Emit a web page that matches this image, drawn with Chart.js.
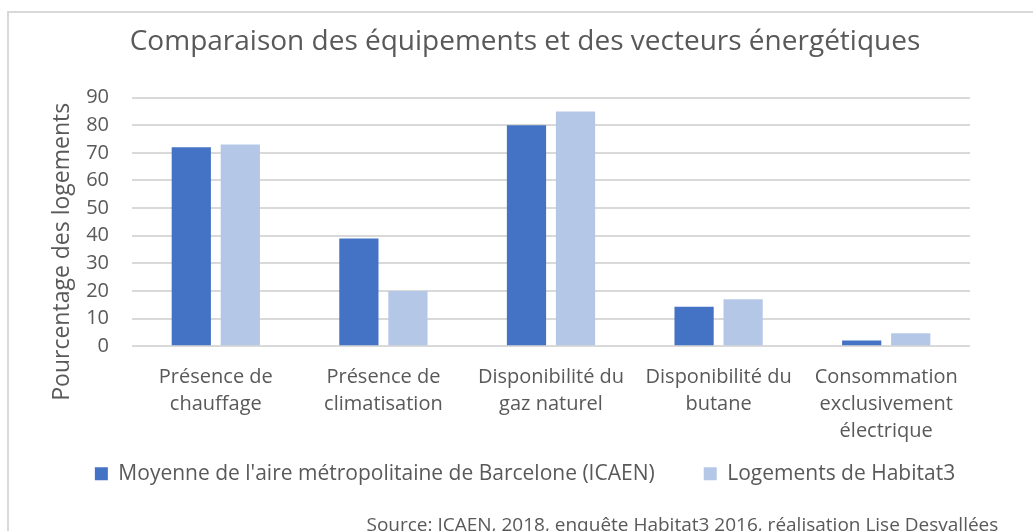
<!DOCTYPE html>
<html>
<head>
<meta charset="utf-8">
<script src="https://cdn.jsdelivr.net/npm/chart.js@4"></script>
<style>
  html, body { margin: 0; padding: 0; background: #fff; overflow: hidden; }
  #wrap { width: 1033px; height: 545px; }
</style>
</head>
<body>
<div id="wrap"><canvas id="chart"></canvas></div>
<script>
const categories = [
  ['Présence de', 'chauffage'],
  ['Présence de', 'climatisation'],
  ['Disponibilité du', 'gaz naturel'],
  ['Disponibilité du', 'butane'],
  ['Consommation', 'exclusivement', 'électrique']
];
const barcelona = [72, 39, 80, 14.3, 2.1];
const habitat3 = [73, 20, 85, 17, 4.7];
const seriesNames = [
  "Moyenne de l'aire métropolitaine de Barcelone (ICAEN)",
  'Logements de Habitat3'
];

const grey = '#595959';
const font = "'Open Sans', sans-serif";

// light grey frame like the office chart area
const framePlugin = {
  id: 'frame',
  beforeDraw(chart) {
    const ctx = chart.ctx;
    ctx.save();
    ctx.fillStyle = '#fff';
    ctx.fillRect(0, 0, chart.width, chart.height);
    ctx.strokeStyle = '#d9d9d9';
    ctx.lineWidth = 2;
    ctx.strokeRect(8, 12, chart.width + 20, chart.height + 20);
    ctx.restore();
  }
};

Chart.defaults.font.family = font;
Chart.defaults.color = grey;

new Chart(document.getElementById('chart'), {
  type: 'bar',
  data: {
    labels: categories,
    datasets: [
      { label: seriesNames[0], data: barcelona, backgroundColor: '#4472c4' },
      { label: seriesNames[1], data: habitat3, backgroundColor: '#b4c7e7' }
    ]
  },
  plugins: [framePlugin],
  options: {
    responsive: true,
    maintainAspectRatio: false,
    animation: false,
    categoryPercentage: 0.585,
    barPercentage: 0.8,
    layout: { padding: { left: 27, right: 10, top: 14, bottom: 0 } },
    plugins: {
      title: {
        display: true,
        text: 'Comparaison des équipements et des vecteurs énergétiques',
        color: grey,
        font: { size: 28, weight: 'normal' },
        padding: { top: 11, bottom: 39 }
      },
      subtitle: {
        display: true,
        position: 'bottom',
        align: 'end',
        // trailing spaces keep the line off the right edge like the original
        text: 'Source: ICAEN, 2018, enquête Habitat3 2016, réalisation Lise Desvallées     ',
        color: grey,
        font: { size: 19 },
        padding: { top: 20, bottom: 8 }
      },
      legend: {
        position: 'bottom',
        labels: {
          color: grey,
          font: { size: 21 },
          boxWidth: 13,
          boxHeight: 13,
          padding: 0,
          // gap between the two entries without making the legend taller
          generateLabels: chart => {
            const items = Chart.defaults.plugins.legend.labels.generateLabels(chart);
            items[0].text += '         ';
            return items;
          }
        }
      },
      tooltip: { enabled: false }
    },
    scales: {
      x: {
        grid: { display: false, drawTicks: false },
        border: { display: false },
        ticks: {
          color: grey,
          font: { size: 20, lineHeight: 1.35 },
          maxRotation: 0,
          autoSkip: false,
          padding: 18
        }
      },
      y: {
        min: 0,
        max: 90,
        grid: { color: '#d9d9d9', lineWidth: 2, drawTicks: false },
        border: { display: false },
        ticks: { color: grey, font: { size: 20 }, padding: 23, stepSize: 10, autoSkip: false },
        title: {
          display: true,
          text: 'Pourcentage des logements          ',
          color: grey,
          font: { size: 23 },
          padding: { top: 22, bottom: 4 }
        },
        afterFit: s => { s.width = 105; }
      },
      y2: {
        position: 'right',
        grid: { display: false },
        border: { display: false },
        ticks: { display: false },
        afterFit: s => { s.width = 53; }
      }
    }
  }
});
</script>
</body>
</html>
